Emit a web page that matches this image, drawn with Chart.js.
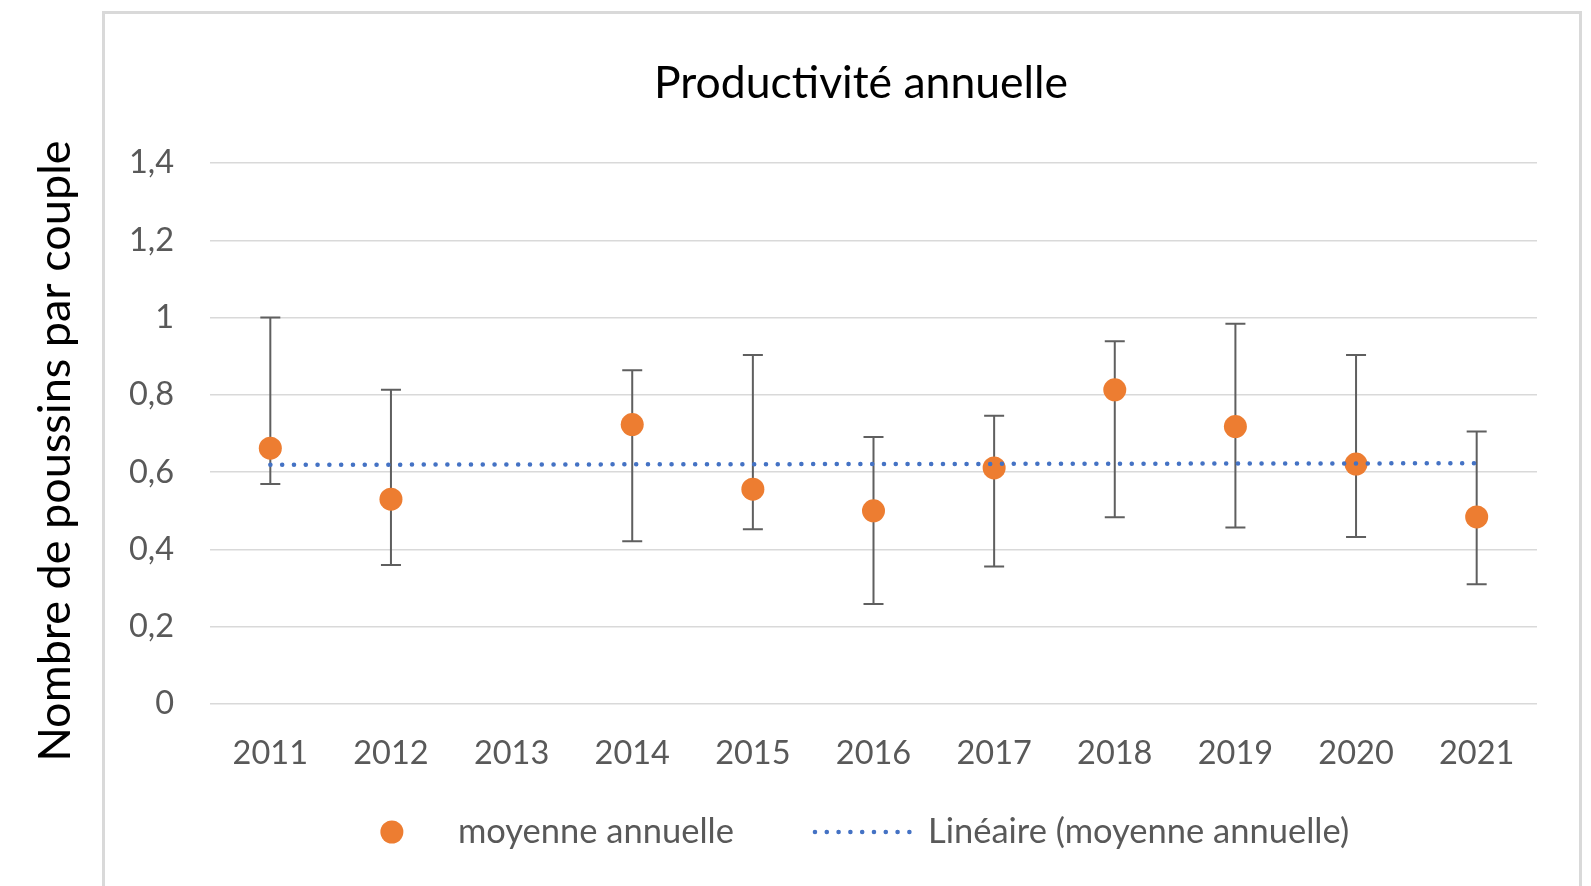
<!DOCTYPE html>
<html lang="fr">
<head>
<meta charset="utf-8">
<title>Productivité annuelle</title>
<script src="https://cdn.jsdelivr.net/npm/chart.js@4.4.1/dist/chart.umd.min.js"></script>
<style>
  html, body { margin: 0; padding: 0; background: #fff; overflow: hidden; }
  .frame { position: absolute; left: 102px; top: 11px; width: 1480px; height: 900px; border: 3px solid #d9d9d9; box-sizing: border-box; }
  #chart { position: absolute; left: 0; top: 0; }
</style>
</head>
<body>
<div class="frame"></div>
<canvas id="chart" width="1591" height="886"></canvas>
<script>
// chart data
const years = ['2011', '2012', '2013', '2014', '2015', '2016', '2017', '2018', '2019', '2020', '2021'];
const means = [0.662, 0.530, null, 0.723, 0.556, 0.500, 0.611, 0.813, 0.718, 0.621, 0.484];
const errHigh = [1.0, 0.813, null, 0.864, 0.903, 0.691, 0.746, 0.939, 0.984, 0.903, 0.705];
const errLow = [0.569, 0.360, null, 0.421, 0.452, 0.259, 0.356, 0.483, 0.457, 0.432, 0.310];
const trendYears = ['2011', '2021'];
const trendValues = [0.619, 0.623];
const yTicks = [0, 0.2, 0.4, 0.6, 0.8, 1, 1.2, 1.4];
const yTickLabels = ['0', '0,2', '0,4', '0,6', '0,8', '1', '1,2', '1,4'];

const titleText = 'Productivité annuelle';
const yTitleText = 'Nombre de poussins par couple';
const seriesName = 'moyenne annuelle';
const trendName = 'Linéaire (moyenne annuelle)';

const orange = '#ED7D31';
const blue = '#4472C4';
const grey = '#595959';

// error bars, drawn under the markers
const errorBars = {
  id: 'errorBars',
  beforeDatasetsDraw(chart) {
    const { ctx, scales: { x, y } } = chart;
    ctx.save();
    ctx.strokeStyle = '#5f5f5f';
    ctx.lineWidth = 2;
    years.forEach((yr, i) => {
      if (errHigh[i] == null) return;
      const px = x.getPixelForValue(i);
      const top = y.getPixelForValue(errHigh[i]);
      const bot = y.getPixelForValue(errLow[i]);
      ctx.beginPath();
      ctx.moveTo(px, top); ctx.lineTo(px, bot);
      ctx.moveTo(px - 10, top); ctx.lineTo(px + 10, top);
      ctx.moveTo(px - 10, bot); ctx.lineTo(px + 10, bot);
      ctx.stroke();
    });
    ctx.restore();
  }
};

// title, y title and legend
const frameText = {
  id: 'frameText',
  afterDraw(chart) {
    const { ctx } = chart;
    ctx.save();
    ctx.fillStyle = '#000';
    ctx.textAlign = 'center';
    ctx.textBaseline = 'middle';
    ctx.font = '44.5px Lato';
    ctx.fillText(titleText, 861, 84);

    ctx.save();
    ctx.translate(55, 451);
    ctx.rotate(-Math.PI / 2);
    ctx.font = '45px Lato';
    ctx.fillText(yTitleText, 0, 0);
    ctx.restore();

    // legend
    ctx.font = '34.5px Lato';
    ctx.fillStyle = grey;
    ctx.textAlign = 'left';
    const w1 = ctx.measureText(seriesName).width;
    const w2 = ctx.measureText(trendName).width;
    const total = 11.5 + 66 + w1 + 79 + 98 + 17 + w2 + 11.5;
    let lx = 870.5 - total / 2 + 11.5;
    const ly = 832;
    ctx.beginPath();
    ctx.fillStyle = orange;
    ctx.arc(lx, ly, 11.5, 0, Math.PI * 2);
    ctx.fill();
    ctx.fillStyle = grey;
    ctx.fillText(seriesName, lx + 66, ly);
    lx = lx + 66 + w1 + 79;
    ctx.beginPath();
    ctx.strokeStyle = blue;
    ctx.lineWidth = 4.5;
    ctx.lineCap = 'round';
    ctx.setLineDash([0.1, 11.7]);
    ctx.moveTo(lx + 2, ly);
    ctx.lineTo(lx + 98, ly);
    ctx.stroke();
    ctx.fillText(trendName, lx + 98 + 17, ly);
    ctx.restore();
  }
};

const chart = new Chart(document.getElementById('chart'), {
  type: 'line',
  data: {
    labels: years,
    datasets: [
      {
        label: trendName,
        data: trendYears.map((yr, i) => ({ x: yr, y: trendValues[i] })),
        borderColor: blue,
        borderWidth: 4.5,
        borderDash: [0.1, 11.7],
        borderCapStyle: 'round',
        pointRadius: 0,
        order: 0
      },
      {
        label: seriesName,
        data: means,
        showLine: false,
        pointRadius: 11.5,
        pointBackgroundColor: orange,
        pointBorderWidth: 0,
        order: 1
      }
    ]
  },
  options: {
    responsive: false,
    animation: false,
    layout: { padding: { left: 0, right: 54, top: 163, bottom: 0 } },
    scales: {
      x: {
        offset: true,
        grid: { display: false, drawTicks: false },
        border: { display: false },
        ticks: { color: grey, font: { family: 'Lato', size: 32.5 }, padding: 30, maxRotation: 0 },
        afterFit: s => { s.height = 182; }
      },
      y: {
        min: 0,
        max: 1.4,
        afterBuildTicks: s => { s.ticks = yTicks.map(v => ({ value: v })); },
        grid: { color: '#d9d9d9', lineWidth: 1.5, drawTicks: false },
        border: { display: false },
        ticks: {
          color: grey,
          font: { family: 'Lato', size: 32.5 },
          padding: 36,
          callback: (v, i) => yTickLabels[i]
        },
        afterFit: s => { s.width = 210; }
      }
    },
    plugins: {
      legend: { display: false },
      title: { display: false },
      tooltip: { enabled: false }
    }
  },
  plugins: [errorBars, frameText]
});
</script>
</body>
</html>
